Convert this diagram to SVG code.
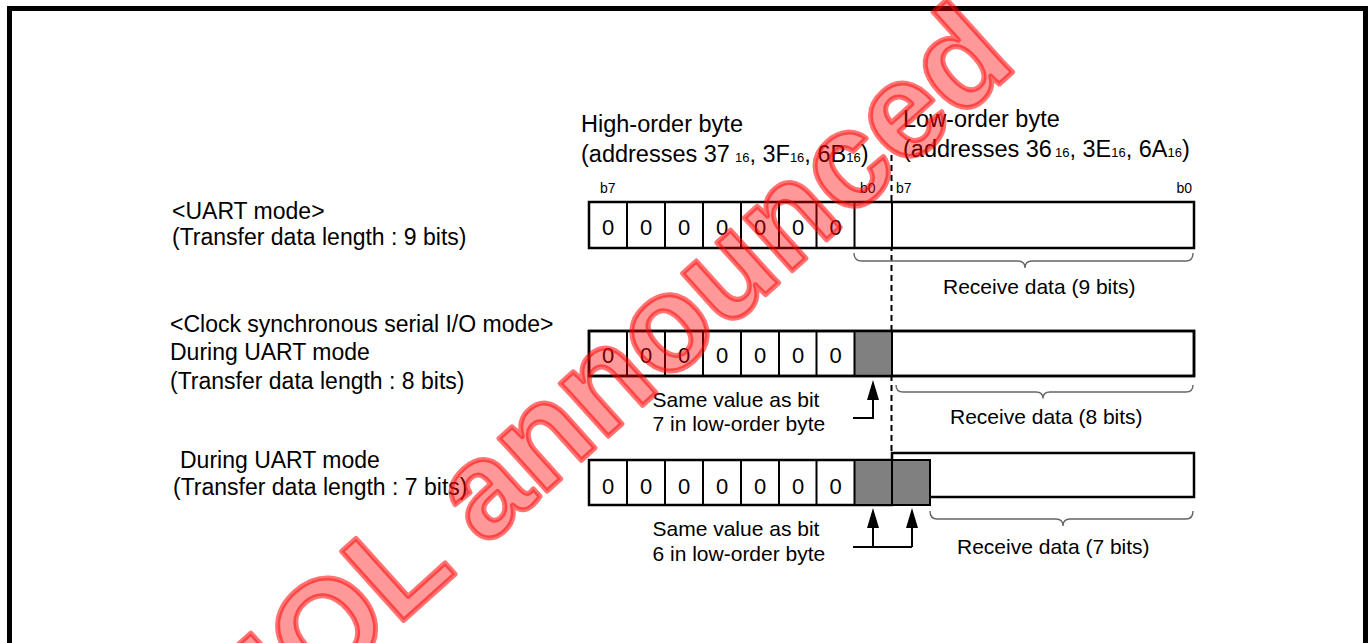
<svg xmlns="http://www.w3.org/2000/svg" width="1372" height="643" viewBox="0 0 1372 643">
<defs>
<style>
.t{font-family:"Liberation Sans",Arial,sans-serif;fill:#000}
.hd{font-size:23.5px}
.lt{font-size:23px}
.rd{font-size:21px}
.dg{font-size:22px;text-anchor:middle}
.bl{font-size:14px}
.sub{font-size:13px}
.box{fill:#fff;stroke:#000;stroke-width:2.5}
.div{stroke:#000;stroke-width:2}
.gray{fill:#808080;stroke:#000;stroke-width:2}
.brace{fill:none;stroke:#666;stroke-width:1.4}
.ln{fill:none;stroke:#000;stroke-width:2}
.ah{fill:#000}
.dash{stroke:#000;stroke-width:2;stroke-dasharray:6 4}
</style>
</defs>
<rect x="0" y="0" width="1372" height="643" fill="#fff"/>
<rect id="frame" x="9.5" y="8.5" width="1356" height="700" fill="none" stroke="#000" stroke-width="5"/>

<g id="headers">
<text class="t hd" x="581" y="131.5">High-order byte</text>
<text class="t hd" x="581" y="161.5">(addresses 37<tspan class="sub" dx="5">16</tspan>, 3F<tspan class="sub">16</tspan>, 6B<tspan class="sub">16</tspan>)</text>
<text class="t hd" x="903" y="126.5">Low-order byte</text>
<text class="t hd" x="903" y="156.5">(addresses 36<tspan class="sub" dx="3">16</tspan>, 3E<tspan class="sub">16</tspan>, 6A<tspan class="sub">16</tspan>)</text>
<text class="t bl" x="600" y="193">b7</text>
<text class="t bl" x="860" y="193">b0</text>
<text class="t bl" x="896" y="193">b7</text>
<text class="t bl" x="1192" y="193" text-anchor="end">b0</text>
</g>

<g id="connectors">
<line class="dash" x1="891.5" y1="155" x2="891.5" y2="453"/>
</g>

<g id="labels-left">
<text class="t lt" x="172" y="219">&lt;UART mode&gt;</text>
<text class="t lt" x="172" y="245">(Transfer data length : 9 bits)</text>
<text class="t lt" x="170" y="331.5">&lt;Clock synchronous serial I/O mode&gt;</text>
<text class="t lt" x="170" y="360">During UART mode</text>
<text class="t lt" x="170" y="388.5">(Transfer data length : 8 bits)</text>
<text class="t lt" x="180" y="468">During UART mode</text>
<text class="t lt" x="173" y="495">(Transfer data length : 7 bits)</text>
</g>

<g id="row1">
<rect class="box" x="589" y="202" width="605" height="46"/>
<line class="div" x1="627" y1="202" x2="627" y2="248"/>
<line class="div" x1="665" y1="202" x2="665" y2="248"/>
<line class="div" x1="703" y1="202" x2="703" y2="248"/>
<line class="div" x1="741" y1="202" x2="741" y2="248"/>
<line class="div" x1="779" y1="202" x2="779" y2="248"/>
<line class="div" x1="816.5" y1="202" x2="816.5" y2="248"/>
<line class="div" x1="854.5" y1="202" x2="854.5" y2="248"/>
<line class="div" x1="892" y1="202" x2="892" y2="248"/>
<text class="t dg" x="608" y="235">0</text>
<text class="t dg" x="646" y="235">0</text>
<text class="t dg" x="684" y="235">0</text>
<text class="t dg" x="722" y="235">0</text>
<text class="t dg" x="760" y="235">0</text>
<text class="t dg" x="798" y="235">0</text>
<text class="t dg" x="835.5" y="235">0</text>
<path class="brace" d="M854,253 Q854,261 862,261 L1018,261 Q1025,261 1025,268 Q1025,261 1032,261 L1186,261 Q1193,261 1193,253"/>
<text class="t rd" x="943" y="294">Receive data (9 bits)</text>
</g>

<g id="row2">
<rect class="box" x="589" y="331" width="605" height="45"/>
<rect class="gray" x="854.5" y="331" width="37.5" height="45"/>
<line class="div" x1="627" y1="331" x2="627" y2="376"/>
<line class="div" x1="665" y1="331" x2="665" y2="376"/>
<line class="div" x1="703" y1="331" x2="703" y2="376"/>
<line class="div" x1="741" y1="331" x2="741" y2="376"/>
<line class="div" x1="779" y1="331" x2="779" y2="376"/>
<line class="div" x1="816.5" y1="331" x2="816.5" y2="376"/>
<rect x="589" y="331" width="605" height="45" fill="none" stroke="#000" stroke-width="2.5"/>
<text class="t dg" x="608" y="362.5">0</text>
<text class="t dg" x="646" y="362.5">0</text>
<text class="t dg" x="684" y="362.5">0</text>
<text class="t dg" x="722" y="362.5">0</text>
<text class="t dg" x="760" y="362.5">0</text>
<text class="t dg" x="798" y="362.5">0</text>
<text class="t dg" x="835.5" y="362.5">0</text>
<path class="ln" d="M853,418 L873,418 L873,398"/>
<polygon class="ah" points="873,380 867,400 879,400"/>
<text class="t rd" x="652.5" y="407">Same value as bit</text>
<text class="t rd" x="652.5" y="430.5">7 in low-order byte</text>
<path class="brace" d="M896,385 Q896,392 903,392 L1036,392 Q1043,392 1043,398.5 Q1043,392 1050,392 L1186,392 Q1193,392 1193,385"/>
<text class="t rd" x="950" y="424">Receive data (8 bits)</text>
</g>

<g id="row3">
<rect class="box" x="892" y="453" width="302" height="44"/>
<rect class="box" x="589" y="460" width="303" height="45"/>
<line class="div" x1="627" y1="460" x2="627" y2="505"/>
<line class="div" x1="665" y1="460" x2="665" y2="505"/>
<line class="div" x1="703" y1="460" x2="703" y2="505"/>
<line class="div" x1="741" y1="460" x2="741" y2="505"/>
<line class="div" x1="779" y1="460" x2="779" y2="505"/>
<line class="div" x1="816.5" y1="460" x2="816.5" y2="505"/>
<rect class="gray" x="854.5" y="460" width="37.5" height="45"/>
<rect class="gray" x="892" y="460" width="38" height="45"/>
<text class="t dg" x="608" y="494">0</text>
<text class="t dg" x="646" y="494">0</text>
<text class="t dg" x="684" y="494">0</text>
<text class="t dg" x="722" y="494">0</text>
<text class="t dg" x="760" y="494">0</text>
<text class="t dg" x="798" y="494">0</text>
<text class="t dg" x="835.5" y="494">0</text>
<path class="ln" d="M853,547 L912,547 M873,528 L873,547 M912,528 L912,547"/>
<polygon class="ah" points="873,508 867,528 879,528"/>
<polygon class="ah" points="912,508 906,528 918,528"/>
<text class="t rd" x="652.5" y="536">Same value as bit</text>
<text class="t rd" x="652.5" y="560.5">6 in low-order byte</text>
<path class="brace" d="M930,511 Q930,519 937,519 L1056,519 Q1063,519 1063,526 Q1063,519 1070,519 L1186,519 Q1193,519 1193,511"/>
<text class="t rd" x="957" y="554">Receive data (7 bits)</text>
</g>

<g id="watermark">
<text x="252" y="757" transform="rotate(-42 252 757)" font-family="'Liberation Sans',Arial,sans-serif" font-weight="bold" font-size="135" fill="#ff0000" fill-opacity="0.4" stroke="#ff0000" stroke-opacity="0.55" stroke-width="5" stroke-linejoin="round">EOL announced</text>
</g>
</svg>
